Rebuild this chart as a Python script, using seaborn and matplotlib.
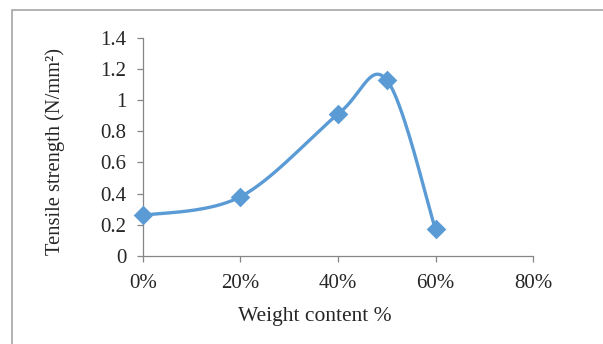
import numpy as np
import matplotlib
matplotlib.use("Agg")
import matplotlib.pyplot as plt
from matplotlib.patches import Rectangle
import seaborn as sns

# data
weight = [0.0, 0.2, 0.4, 0.5, 0.6]
strength = [0.26, 0.38, 0.91, 1.13, 0.17]
x_ticks = [0.0, 0.2, 0.4, 0.6, 0.8]
x_labels = ["0%", "20%", "40%", "60%", "80%"]
y_ticks = [0, 0.2, 0.4, 0.6, 0.8, 1.0, 1.2, 1.4]
y_labels = ["0", "0.2", "0.4", "0.6", "0.8", "1", "1.2", "1.4"]

BLUE = "#5B9BD5"
GREY = "#868686"


def smooth(xs, ys, n=40):
    # Excel-like smoothed line: cubic bezier with Catmull-Rom control points
    xs = np.asarray(xs, float)
    ys = np.asarray(ys, float)
    px = np.concatenate([[xs[0]], xs, [xs[-1]]])
    py = np.concatenate([[ys[0]], ys, [ys[-1]]])
    outx, outy = [], []
    t = np.linspace(0, 1, n)
    for i in range(1, len(px) - 2):
        p0 = np.array([px[i], py[i]])
        p3 = np.array([px[i + 1], py[i + 1]])
        c1 = p0 + (np.array([px[i + 1], py[i + 1]]) - np.array([px[i - 1], py[i - 1]])) / 6
        c2 = p3 - (np.array([px[i + 2], py[i + 2]]) - np.array([px[i], py[i]])) / 6
        b = ((1 - t) ** 3)[:, None] * p0 + (3 * (1 - t) ** 2 * t)[:, None] * c1 \
            + (3 * (1 - t) * t ** 2)[:, None] * c2 + (t ** 3)[:, None] * p3
        outx.extend(b[:, 0])
        outy.extend(b[:, 1])
    return np.array(outx), np.array(outy)


sns.set_style("white")
plt.rcParams['font.family'] = ['Liberation Serif', 'DejaVu Serif']
plt.rcParams['font.size'] = 15

fig = plt.figure(figsize=(6.03, 3.44), dpi=100)
ax = fig.add_axes([0.237, 0.256, 0.647, 0.634])

fig.patches.append(Rectangle((12 / 603, -0.05), 1.0, 1 - 10 / 344 + 0.05, transform=fig.transFigure,
                             fill=False, edgecolor="#A6A6A6", linewidth=1.2))

sx, sy = smooth(weight, strength)
sns.lineplot(x=sx, y=sy, ax=ax, color=BLUE, linewidth=2.4, sort=False, estimator=None, zorder=2)
sns.scatterplot(x=weight, y=strength, ax=ax, color=BLUE, marker="D", s=100, edgecolor=BLUE,
                linewidth=0, zorder=3, clip_on=False)

ax.set_xlim(0, 0.8)
ax.set_ylim(0, 1.4)
ax.set_xticks(x_ticks)
ax.set_xticklabels(x_labels)
ax.set_yticks(y_ticks)
ax.set_yticklabels(y_labels)
for s in ["top", "right"]:
    ax.spines[s].set_visible(False)
for s in ["left", "bottom"]:
    ax.spines[s].set_color(GREY)
    ax.spines[s].set_linewidth(0.9)
ax.tick_params(axis="both", direction="out", length=4, width=0.9, color=GREY, labelsize=15,
               left=True, bottom=True)
ax.tick_params(axis="x", pad=9)
ax.tick_params(axis="y", pad=8)
ax.set_xlabel("Weight content %", fontsize=15.5, labelpad=10)
ax.xaxis.label.set_x(0.44)
ax.set_ylabel("Tensile strength (N/mm²)", fontsize=14.8, labelpad=25)
ax.yaxis.label.set_y(0.48)

fig.savefig("out.png", dpi=100)
